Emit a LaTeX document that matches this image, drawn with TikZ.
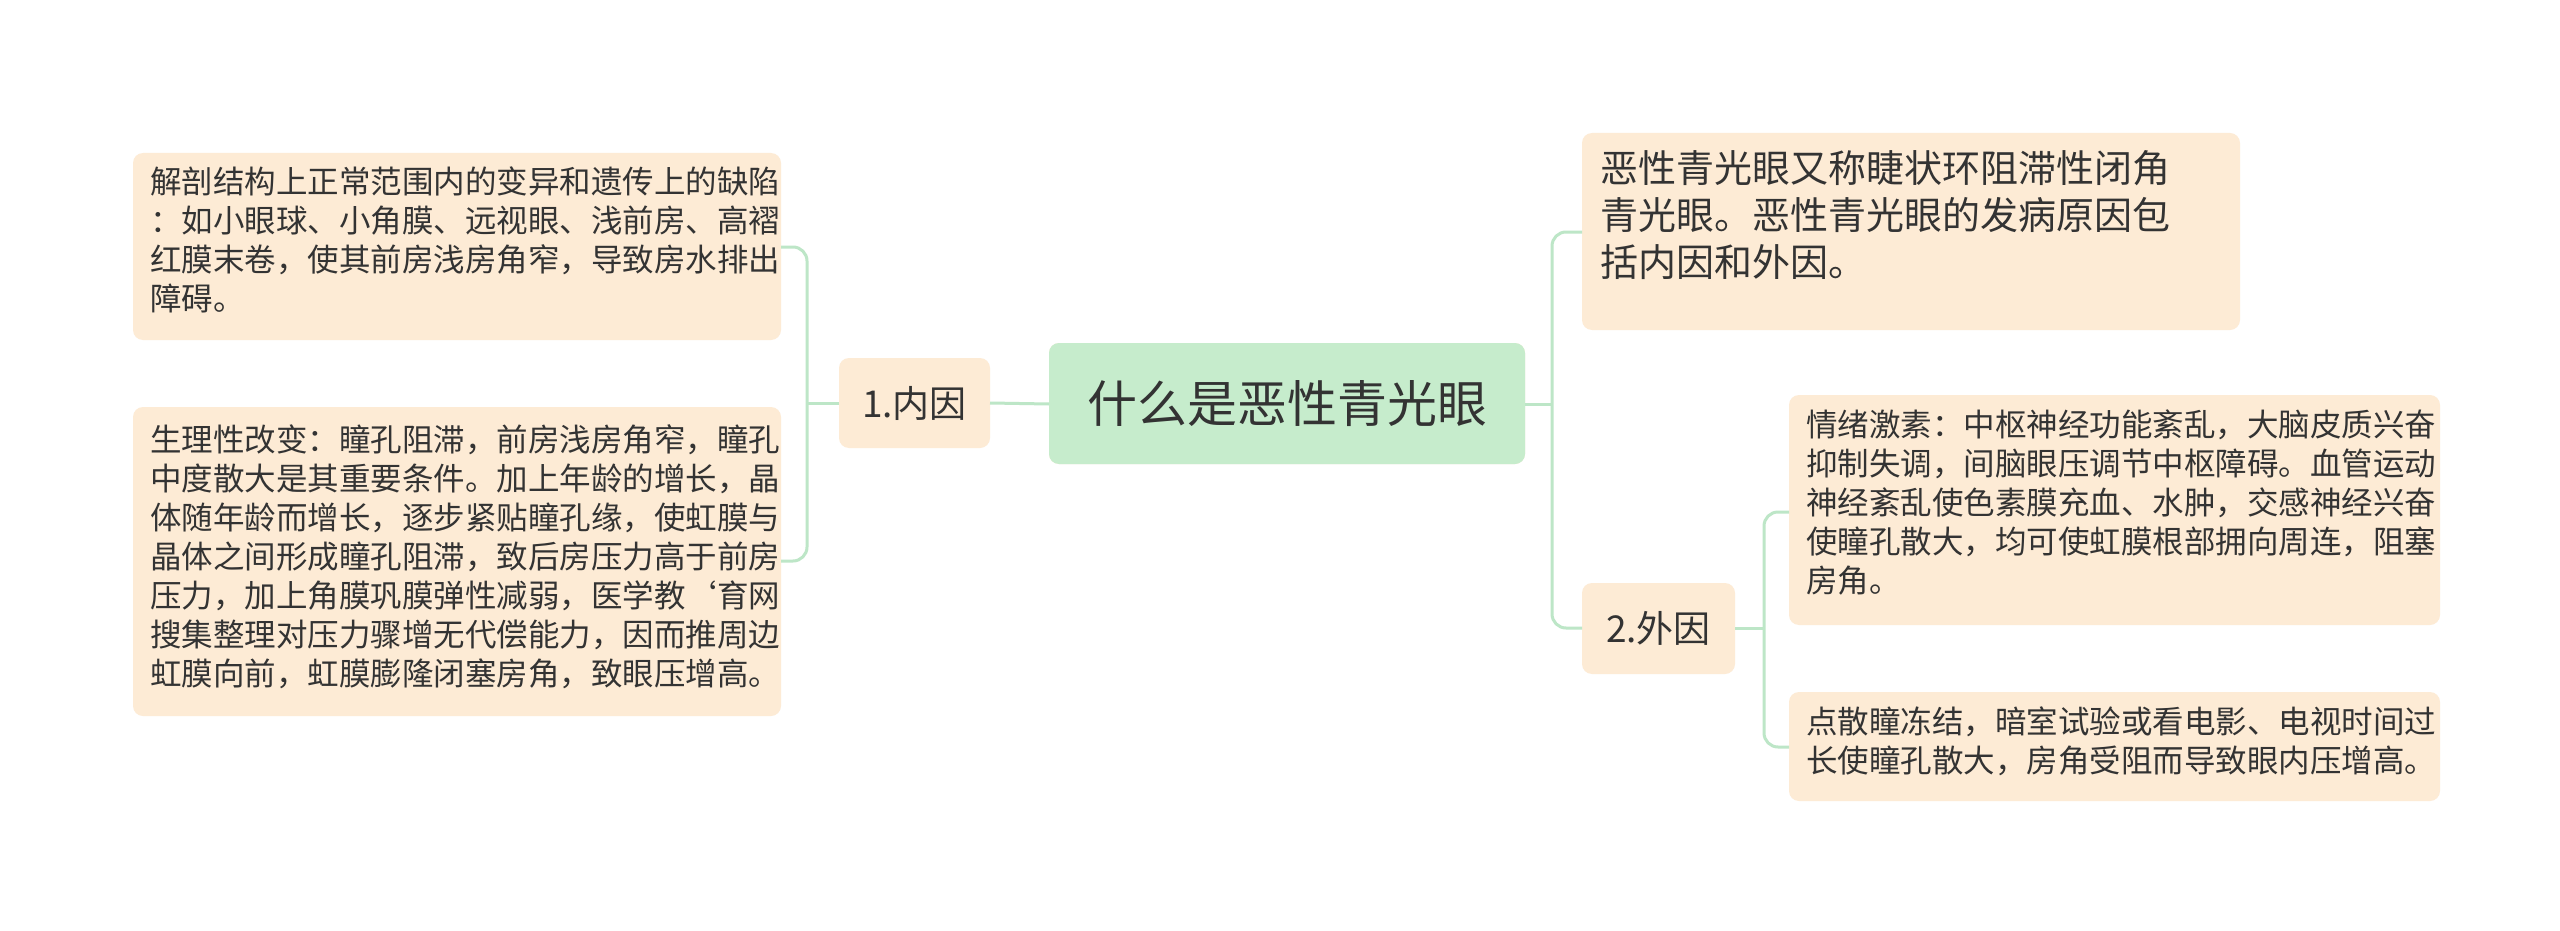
\documentclass[tikz,border=0pt]{standalone}
\usepackage{fontspec}
\setmainfont{Noto Sans CJK SC}
\definecolor{peach}{HTML}{FDEBD5}
\definecolor{mint}{HTML}{C6ECCC}
\definecolor{lnk}{HTML}{BDE6C7}
\definecolor{txt}{HTML}{333333}
\begin{document}
\begin{tikzpicture}[x=1pt,y=-1pt,
  box/.style={fill=peach,rounded corners=10pt,text=txt,align=left,anchor=north west,inner sep=0pt},
  lnkline/.style={draw=lnk,line width=3pt,rounded corners=14pt}]
\useasboundingbox (0,0) rectangle (2560,931);
\fill[white] (0,0) rectangle (2560,931);
% boxes drawn as rectangles with text
\fill[peach,rounded corners=10pt] (1049,343) rectangle (1525,464);
\fill[mint,rounded corners=10pt] (1049,343) rectangle (1525,464);
\node[text=txt,font=\fontsize{50}{60}\selectfont] (c) at (1287,404) {什么是恶性青光眼};
\coordinate (cl) at (1049,404); \coordinate (cr) at (1525,404);

\fill[peach,rounded corners=10pt] (839,358) rectangle (990,448);
\node[text=txt,font=\fontsize{37}{44}\selectfont] (n1) at (914.5,403) {1.内因};
\coordinate (n1l) at (839,403); \coordinate (n1r) at (990,403);

\fill[peach,rounded corners=10pt] (1582,583) rectangle (1735,674);
\node[text=txt,font=\fontsize{37}{44}\selectfont] (n2) at (1658.5,628) {2.外因};
\coordinate (n2l) at (1582,628); \coordinate (n2r) at (1735,628);

\fill[peach,rounded corners=10pt] (133,153) rectangle (781,340);
\node[text=txt,anchor=north west,align=left,inner sep=0pt,font=\fontsize{31.5}{39}\selectfont] (b1) at (150,167) {解剖结构上正常范围内的变异和遗传上的缺陷\\：如小眼球、小角膜、远视眼、浅前房、高褶\\红膜末卷，使其前房浅房角窄，导致房水排出\\障碍。};
\coordinate (b1r) at (781,247);

\fill[peach,rounded corners=10pt] (133,407) rectangle (781,716);
\node[text=txt,anchor=north west,align=left,inner sep=0pt,font=\fontsize{31.5}{39}\selectfont] (b2) at (150,424) {生理性改变：瞳孔阻滞，前房浅房角窄，瞳孔\\中度散大是其重要条件。加上年龄的增长，晶\\体随年龄而增长，逐步紧贴瞳孔缘，使虹膜与\\晶体之间形成瞳孔阻滞，致后房压力高于前房\\压力，加上角膜巩膜弹性减弱，医学教`育网\\搜集整理对压力骤增无代偿能力，因而推周边\\虹膜向前，虹膜膨隆闭塞房角，致眼压增高。};
\coordinate (b2r) at (781,561);

\fill[peach,rounded corners=10pt] (1582,133) rectangle (2240,330);
\node[text=txt,anchor=north west,align=left,inner sep=0pt,font=\fontsize{38}{47}\selectfont] (t) at (1600,150) {恶性青光眼又称睫状环阻滞性闭角\\青光眼。恶性青光眼的发病原因包\\括内因和外因。};
\coordinate (tl) at (1582,232);

\fill[peach,rounded corners=10pt] (1789,395) rectangle (2440,625);
\node[text=txt,anchor=north west,align=left,inner sep=0pt,font=\fontsize{31.5}{39}\selectfont] (b3) at (1806,410) {情绪激素：中枢神经功能紊乱，大脑皮质兴奋\\抑制失调，间脑眼压调节中枢障碍。血管运动\\神经紊乱使色素膜充血、水肿，交感神经兴奋\\使瞳孔散大，均可使虹膜根部拥向周连，阻塞\\房角。};
\coordinate (b3l) at (1789,512);

\fill[peach,rounded corners=10pt] (1789,692) rectangle (2440,801);
\node[text=txt,anchor=north west,align=left,inner sep=0pt,font=\fontsize{31.5}{39}\selectfont] (b4) at (1806,707) {点散瞳冻结，暗室试验或看电影、电视时间过\\长使瞳孔散大，房角受阻而导致眼内压增高。};
\coordinate (b4l) at (1789,747);

% connectors
\draw[lnkline] (cl) -- (n1r);
\draw[lnkline] (n1l) -- (807,403);
\draw[lnkline] (b1r) -| (807,403) |- (b2r);
\draw[lnkline] (cr) -- (1552,404);
\draw[lnkline] (tl) -| (1552,404) |- (n2l);
\draw[lnkline] (n2r) -- (1764,628);
\draw[lnkline] (b3l) -| (1764,628) |- (b4l);
\end{tikzpicture}
\end{document}
